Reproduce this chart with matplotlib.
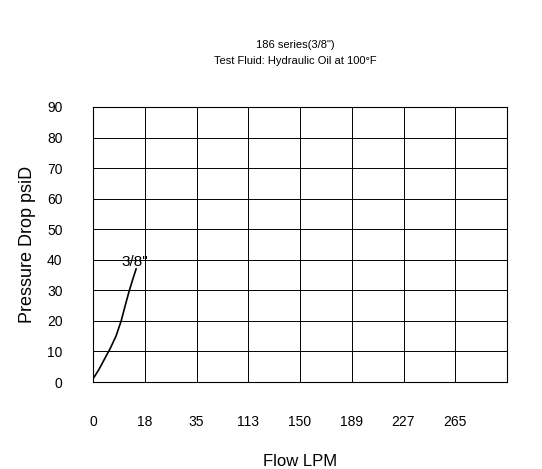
import numpy as np
import matplotlib.pyplot as plt

plt.rcParams['font.family'] = ['Liberation Sans', 'DejaVu Sans']

# x axis is categorical-like: equally spaced tick labels
x_ticks = [0, 18, 35, 113, 150, 189, 227, 265]
y_ticks = [0, 10, 20, 30, 40, 50, 60, 70, 80, 90]

# curve 3/8" (flow LPM, psi)
flow = [0, 2.0, 4.0, 6.0, 8.0, 9.8, 11.2, 12.5, 13.8, 15.0]
psi = [1, 4, 7.5, 11, 15, 20, 25, 29.5, 33.5, 37]

pos = np.interp(flow, x_ticks, np.arange(len(x_ticks)))

fig = plt.figure(figsize=(5.42, 4.69), dpi=100)
ax = fig.add_axes([93 / 542, 1 - 382 / 469, 414 / 542, 275 / 469])
ax.plot(pos, psi, color='black', lw=1.2)
ax.text(pos[-1] - 0.28, psi[-1] + 0.8, '3/8"', fontsize=11)

ax.set_xlim(0, 8)
ax.set_ylim(0, 90)
ax.set_xticks(range(len(x_ticks)))
ax.set_xticklabels([str(v) for v in x_ticks])
ax.set_yticks(y_ticks)
ax.tick_params(axis='x', length=0, labelsize=10, pad=24)
ax.tick_params(axis='y', length=0, labelsize=10, pad=22)
ax.grid(True, color='black', lw=0.7)
for s in ax.spines.values():
    s.set_linewidth(0.8)

ax.set_xlabel('Flow LPM', fontsize=12, labelpad=18)
ax.set_ylabel('Pressure Drop psiD', fontsize=13, labelpad=8)

fig.text(0.545, 1 - 45 / 469, '186 series(3/8")', ha='center', va='center', fontsize=8)
fig.text(0.545, 1 - 61 / 469, 'Test Fluid: Hydraulic Oil at 100\u00b0F', ha='center', va='center', fontsize=8)

fig.savefig('out.png', dpi=100)
